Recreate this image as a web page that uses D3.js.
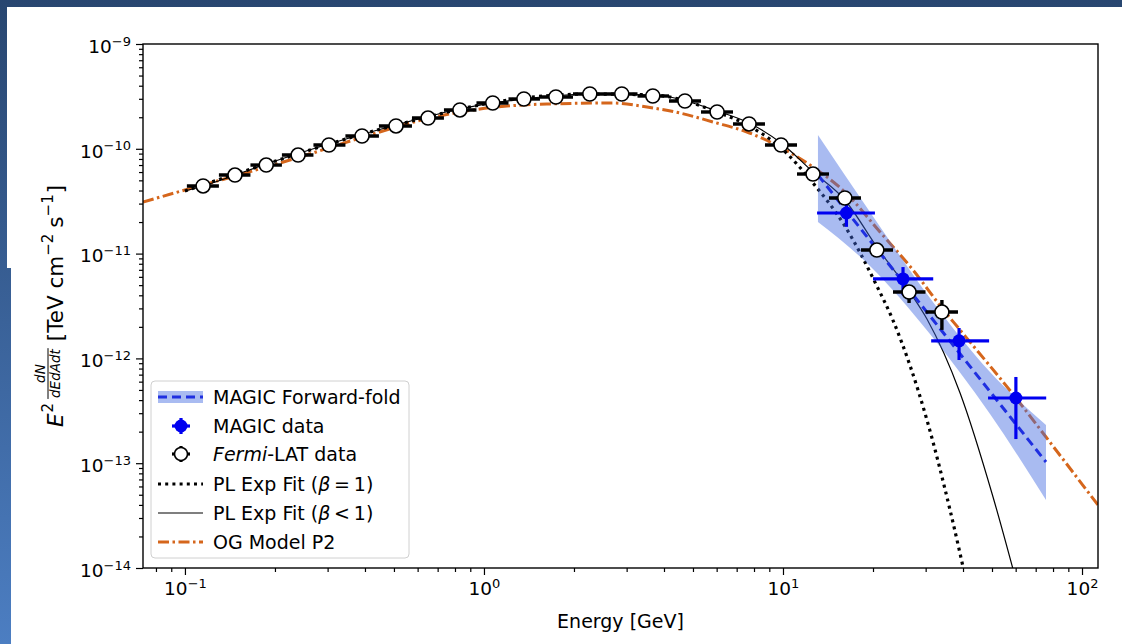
<!DOCTYPE html>
<html>
<head>
<meta charset="utf-8">
<script src="https://cdn.jsdelivr.net/npm/d3@7"></script>
<style>
  html, body { margin: 0; padding: 0; background: #fff; }
  svg { display: block; font-family: "DejaVu Sans", sans-serif; }
</style>
</head>
<body>
<svg id="chart" width="1122" height="644"></svg>
<script>
'use strict';

// Fermi-LAT points (energy in GeV, E^2 dN/dE in TeV cm^-2 s^-1)
var fermiE = [0.115, 0.147, 0.187, 0.239, 0.303, 0.391, 0.508, 0.650, 0.831, 1.07, 1.36, 1.74,
  2.26, 2.89, 3.67, 4.70, 6.02, 7.70, 9.85, 12.6, 16.1, 20.6, 26.4, 34.0];
var fermiF = [4.42e-11, 5.62e-11, 7.00e-11, 8.72e-11, 1.087e-10, 1.325e-10, 1.651e-10, 1.967e-10,
  2.346e-10, 2.735e-10, 2.987e-10, 3.121e-10, 3.333e-10, 3.333e-10, 3.190e-10, 2.858e-10,
  2.245e-10, 1.725e-10, 1.087e-10, 5.746e-11, 3.392e-11, 1.082e-11, 4.30e-12, 2.77e-12];
var fermiLo = [4.32e-11, 5.50e-11, 6.86e-11, 8.55e-11, 1.066e-10, 1.300e-10, 1.620e-10, 1.930e-10,
  2.300e-10, 2.680e-10, 2.930e-10, 3.060e-10, 3.270e-10, 3.265e-10, 3.120e-10, 2.790e-10,
  2.190e-10, 1.680e-10, 1.055e-10, 5.52e-11, 3.04e-11, 9.48e-12, 3.38e-12, 1.87e-12];
var fermiHi = [4.52e-11, 5.74e-11, 7.14e-11, 8.89e-11, 1.108e-10, 1.350e-10, 1.682e-10, 2.004e-10,
  2.392e-10, 2.790e-10, 3.044e-10, 3.182e-10, 3.396e-10, 3.401e-10, 3.260e-10, 2.926e-10,
  2.300e-10, 1.770e-10, 1.119e-10, 5.98e-11, 3.71e-11, 1.18e-11, 4.80e-12, 3.61e-12];
var fermiEdges = [0.1015, 0.1299, 0.1656, 0.2110, 0.2690, 0.3441, 0.4454, 0.5744, 0.7348, 0.9439,
  1.208, 1.539, 1.985, 2.559, 3.262, 4.157, 5.319, 6.804, 8.705, 11.14, 14.25, 18.23, 23.33,
  29.96, 38.48];

// MAGIC points
var magicE = [16.3, 25.2, 38.8, 60.1];
var magicF = [2.44e-11, 5.73e-12, 1.47e-12, 4.19e-13];
var magicELo = [13.0, 20.0, 31.3, 48.5];
var magicEHi = [20.3, 31.8, 48.9, 75.9];
var magicFLo = [1.80e-11, 4.02e-12, 9.66e-13, 1.70e-13];
var magicFHi = [2.91e-11, 7.44e-12, 1.95e-12, 6.65e-13];

// MAGIC forward-folding butterfly and best fit
var bandE = [13.09, 19.54, 31.01, 49.25, 75.78];
var bandUp = [1.354e-10, 2.494e-11, 3.77e-12, 7.42e-13, 2.314e-13];
var bandLow = [2.002e-11, 7.62e-12, 1.709e-12, 2.948e-13, 4.455e-14];
var ffE = [13.09, 75.78];
var ffF = [5.62e-11, 1.027e-13];

// PL exp cutoff fit, beta = 1
var exp1E = [0.1, 0.187, 0.508, 1.36, 2.26, 3.67, 6.02, 7.70, 9.85, 12.6, 16.1, 20.6, 23.3, 30.3, 36.2, 41.6];
var exp1F = [3.957e-11, 7.16e-11, 1.688e-10, 3.053e-10, 3.333e-10, 3.26e-10, 2.245e-10, 1.651e-10,
  1.018e-10, 4.72e-11, 1.834e-11, 4.91e-12, 2.325e-12, 2.584e-13, 3.57e-14, 6.17e-15];

// PL exp cutoff fit, beta < 1
var expbE = [0.1, 0.115, 0.187, 0.303, 0.508, 0.831, 1.36, 2.26, 3.67, 6.02, 7.70, 9.85, 12.6, 16.1,
  20.6, 26.4, 30.3, 39.1, 50.4, 62.0];
var expbF = [3.957e-11, 4.42e-11, 7.16e-11, 1.111e-10, 1.688e-10, 2.398e-10, 2.987e-10, 3.333e-10,
  3.26e-10, 2.295e-10, 1.763e-10, 1.136e-10, 6.006e-11, 3.246e-11, 1.156e-11, 4.395e-12,
  2.377e-12, 4.677e-13, 4.76e-14, 5.52e-15];

// OG model P2
var ogE = [0.0724, 0.1, 0.147, 0.2424, 0.3848, 0.6599, 0.9696, 1.624, 2.701, 3.509, 4.524, 5.834,
  7.578, 9.772, 12.6, 16.1, 21.11, 27.22, 34.0, 39.1, 60.15, 75.78, 113.1];
var ogF = [3.108e-11, 4.045e-11, 5.50e-11, 8.35e-11, 1.268e-10, 1.967e-10, 2.398e-10, 2.676e-10,
  2.735e-10, 2.505e-10, 2.195e-10, 1.802e-10, 1.447e-10, 1.04e-10, 6.706e-11, 3.87e-11,
  1.607e-11, 6.975e-12, 3.027e-12, 1.866e-12, 4.19e-13, 1.778e-13, 3.99e-14];

var xMajor = [0.1, 1, 10, 100];
var xExp = ['\u22121', '0', '1', '2'];
var yMajor = [1e-14, 1e-13, 1e-12, 1e-11, 1e-10, 1e-9];
var yExp = ['\u221214', '\u221213', '\u221212', '\u221211', '\u221210', '\u22129'];

var legendLabels = ['MAGIC Forward-fold', 'MAGIC data', 'Fermi-LAT data',
  'PL Exp Fit (\u03b2 = 1)', 'PL Exp Fit (\u03b2 < 1)', 'OG Model P2'];

(function () {
  var orange = '#d5661c', blue = '#0000f0', bandFill = '#4169e1';

  var svg = d3.select('#chart');

  // slide background
  var defs = svg.append('defs');
  var grad = defs.append('linearGradient').attr('id', 'bg').attr('x1', 0).attr('y1', 0).attr('x2', 0).attr('y2', 1);
  grad.append('stop').attr('offset', '0%').attr('stop-color', '#284670');
  grad.append('stop').attr('offset', '100%').attr('stop-color', '#4c7ec2');
  svg.append('rect').attr('width', 1122).attr('height', 644).attr('fill', 'url(#bg)');
  svg.append('rect').attr('x', 7).attr('y', 7).attr('width', 1115).attr('height', 261).attr('fill', '#fff');
  svg.append('rect').attr('x', 11).attr('y', 7).attr('width', 1111).attr('height', 637).attr('fill', '#fff');

  var pL = 143, pR = 1098, pT = 44, pB = 568;
  var x = d3.scaleLog().domain([0.0724, 113.1]).range([pL, pR]);
  var y = d3.scaleLog().domain([1e-14, 1e-9]).range([pB, pT]);

  defs.append('clipPath').attr('id', 'plot')
    .append('rect').attr('x', pL).attr('y', pT).attr('width', pR - pL).attr('height', pB - pT);

  var isMajor = function (v) { return Math.abs(Math.log10(v) - Math.round(Math.log10(v))) < 1e-6; };
  var xMinor = x.ticks().filter(function (v) { return !isMajor(v); });
  var yMinor = y.ticks().filter(function (v) { return !isMajor(v); });

  var gx = svg.append('g').attr('transform', 'translate(0,' + pB + ')');
  gx.append('g').call(d3.axisBottom(x).tickValues(xMinor).tickSize(4).tickFormat(''));
  var gxM = gx.append('g').call(d3.axisBottom(x).tickValues(xMajor).tickSize(7).tickPadding(6).tickFormat(''));
  var gy = svg.append('g').attr('transform', 'translate(' + pL + ',0)');
  gy.append('g').call(d3.axisLeft(y).tickValues(yMinor).tickSize(4).tickFormat(''));
  var gyM = gy.append('g').call(d3.axisLeft(y).tickValues(yMajor).tickSize(7).tickPadding(5).tickFormat(''));
  svg.selectAll('.domain').remove();
  svg.selectAll('.tick line').attr('stroke', '#000').attr('stroke-width', 1.2);

  var supLabel = function (sel, exps) {
    sel.selectAll('.tick text').each(function (d, i) {
      var t = d3.select(this).attr('font-size', 18.5).attr('font-family', '"DejaVu Sans", sans-serif').attr('fill', '#000');
      t.text('10');
      t.append('tspan').attr('dy', '-0.55em').attr('font-size', 13).text(exps[i]);
    });
  };
  supLabel(gxM, xExp);
  supLabel(gyM, yExp);
  gxM.selectAll('.tick text').attr('y', 14);
  gyM.selectAll('.tick text').attr('dy', '0.45em');

  var plot = svg.append('g').attr('clip-path', 'url(#plot)');
  var line = d3.line().x(function (d) { return x(d[0]); }).y(function (d) { return y(d[1]); }).curve(d3.curveMonotoneX);
  var pairs = function (a, b) { return a.map(function (v, i) { return [v, b[i]]; }); };

  plot.append('path').attr('d', line(pairs(ogE, ogF))).attr('fill', 'none')
    .attr('stroke', orange).attr('stroke-width', 3).attr('stroke-dasharray', '11,3.5,2.5,3.5');
  plot.append('path').attr('d', line(pairs(exp1E, exp1F))).attr('fill', 'none')
    .attr('stroke', '#000').attr('stroke-width', 3.2).attr('stroke-dasharray', '3,4.2');
  plot.append('path').attr('d', line(pairs(expbE, expbF))).attr('fill', 'none')
    .attr('stroke', '#000').attr('stroke-width', 1.2);

  var area = d3.area().x(function (d) { return x(d[0]); })
    .y0(function (d) { return y(d[1]); }).y1(function (d) { return y(d[2]); }).curve(d3.curveMonotoneX);
  plot.append('path').attr('d', area(bandE.map(function (e, i) { return [e, bandLow[i], bandUp[i]]; })))
    .attr('fill', bandFill).attr('fill-opacity', 0.45);
  plot.append('path').attr('d', line(pairs(ffE, ffF))).attr('fill', 'none')
    .attr('stroke', '#1f2fe0').attr('stroke-width', 3).attr('stroke-dasharray', '9,5');

  // MAGIC data
  var mg = plot.append('g');
  magicE.forEach(function (e, i) {
    mg.append('line').attr('x1', x(magicELo[i])).attr('x2', x(magicEHi[i])).attr('y1', y(magicF[i])).attr('y2', y(magicF[i]))
      .attr('stroke', blue).attr('stroke-width', 3.2);
    mg.append('line').attr('x1', x(e)).attr('x2', x(e)).attr('y1', y(magicFLo[i])).attr('y2', y(magicFHi[i]))
      .attr('stroke', blue).attr('stroke-width', 3.2);
    mg.append('circle').attr('cx', x(e)).attr('cy', y(magicF[i])).attr('r', 6.5).attr('fill', blue);
  });

  // Fermi-LAT data
  var fg = plot.append('g');
  fermiE.forEach(function (e, i) {
    fg.append('line').attr('x1', x(fermiEdges[i])).attr('x2', x(fermiEdges[i + 1])).attr('y1', y(fermiF[i])).attr('y2', y(fermiF[i]))
      .attr('stroke', '#000').attr('stroke-width', 3.4);
    fg.append('line').attr('x1', x(e)).attr('x2', x(e)).attr('y1', y(fermiLo[i])).attr('y2', y(fermiHi[i]))
      .attr('stroke', '#000').attr('stroke-width', 3.4);
  });
  fermiE.forEach(function (e, i) {
    fg.append('circle').attr('cx', x(e)).attr('cy', y(fermiF[i])).attr('r', 7)
      .attr('fill', '#fff').attr('stroke', '#000').attr('stroke-width', 1.6);
  });

  // frame
  svg.append('rect').attr('x', pL).attr('y', pT).attr('width', pR - pL).attr('height', pB - pT)
    .attr('fill', 'none').attr('stroke', '#000').attr('stroke-width', 1.4);

  // legend
  var lg = svg.append('g');
  lg.append('rect').attr('x', 151).attr('y', 381).attr('width', 258).attr('height', 177).attr('rx', 4)
    .attr('fill', '#fff').attr('fill-opacity', 0.85).attr('stroke', '#d0d0d0');
  var rowY = [397, 426, 454, 484, 513, 542];
  var hx0 = 158, hx1 = 203, hxc = 181;
  lg.append('rect').attr('x', hx0).attr('y', rowY[0] - 6).attr('width', hx1 - hx0).attr('height', 12)
    .attr('fill', bandFill).attr('fill-opacity', 0.45);
  lg.append('line').attr('x1', hx0).attr('x2', hx1).attr('y1', rowY[0]).attr('y2', rowY[0])
    .attr('stroke', '#1f2fe0').attr('stroke-width', 3).attr('stroke-dasharray', '9,5');
  [[1, blue, blue], [2, '#000', '#fff']].forEach(function (m) {
    var yy = rowY[m[0]];
    lg.append('line').attr('x1', hxc - 9).attr('x2', hxc + 9).attr('y1', yy).attr('y2', yy).attr('stroke', m[1]).attr('stroke-width', 3.2);
    lg.append('line').attr('x1', hxc).attr('x2', hxc).attr('y1', yy - 8).attr('y2', yy + 8).attr('stroke', m[1]).attr('stroke-width', 3.2);
    lg.append('circle').attr('cx', hxc).attr('cy', yy).attr('r', 6.5)
      .attr('fill', m[2]).attr('stroke', m[0] === 1 ? 'none' : '#000').attr('stroke-width', 1.6);
  });
  lg.append('line').attr('x1', hx0).attr('x2', hx1).attr('y1', rowY[3]).attr('y2', rowY[3])
    .attr('stroke', '#000').attr('stroke-width', 3.2).attr('stroke-dasharray', '3,4.2');
  lg.append('line').attr('x1', hx0).attr('x2', hx1).attr('y1', rowY[4]).attr('y2', rowY[4])
    .attr('stroke', '#000').attr('stroke-width', 1.2);
  lg.append('line').attr('x1', hx0).attr('x2', hx1).attr('y1', rowY[5]).attr('y2', rowY[5])
    .attr('stroke', orange).attr('stroke-width', 3).attr('stroke-dasharray', '11,3.5,2.5,3.5');

  legendLabels.forEach(function (s, i) {
    var t = lg.append('text').attr('x', 213).attr('y', rowY[i]).attr('dy', '0.36em').attr('font-size', 19);
    if (i === 2) {
      t.append('tspan').attr('font-style', 'italic').text('Fermi');
      t.append('tspan').text('-LAT data');
    } else if (i === 3 || i === 4) {
      t.append('tspan').text('PL Exp Fit (');
      t.append('tspan').attr('font-style', 'italic').text('\u03b2');
      t.append('tspan').text(i === 3 ? '\u2009=\u20091)' : '\u2009<\u20091)');
    } else {
      t.text(s);
    }
  });

  // axis labels
  svg.append('text').attr('x', (pL + pR) / 2).attr('y', 628).attr('text-anchor', 'middle')
    .attr('font-size', 19).text('Energy [GeV]');

  var yl = svg.append('g');
  var cursor = 0;
  var piece = function (txt, size, dy, italic) {
    var t = yl.append('text').attr('x', cursor).attr('y', dy).attr('font-size', size).text(txt);
    if (italic) t.attr('font-style', 'italic');
    cursor += t.node().getComputedTextLength();
    return t;
  };
  piece('E', 21.5, 0, true);
  cursor += 1;
  piece('2', 15, -10, false);
  cursor += 4;
  var num = yl.append('text').attr('y', -18).attr('font-size', 13.5).attr('font-style', 'italic').attr('text-anchor', 'middle').text('dN');
  var den = yl.append('text').attr('y', -3).attr('font-size', 13.5).attr('font-style', 'italic').attr('text-anchor', 'middle').text('dEdAdt');
  var fw = Math.max(num.node().getComputedTextLength(), den.node().getComputedTextLength()) + 2;
  num.attr('x', cursor + fw / 2);
  den.attr('x', cursor + fw / 2);
  yl.append('line').attr('x1', cursor).attr('x2', cursor + fw).attr('y1', -15).attr('y2', -15)
    .attr('stroke', '#000').attr('stroke-width', 1);
  cursor += fw + 7;
  piece('[TeV cm', 21.5, 0);
  piece('\u22122', 15, -10);
  cursor += 6;
  piece('s', 21.5, 0);
  piece('\u22121', 15, -10);
  cursor += 1;
  piece(']', 21.5, 0);
  yl.attr('transform', 'translate(63,' + (306 + cursor / 2) + ') rotate(-90)');
})();
</script>
</body>
</html>
